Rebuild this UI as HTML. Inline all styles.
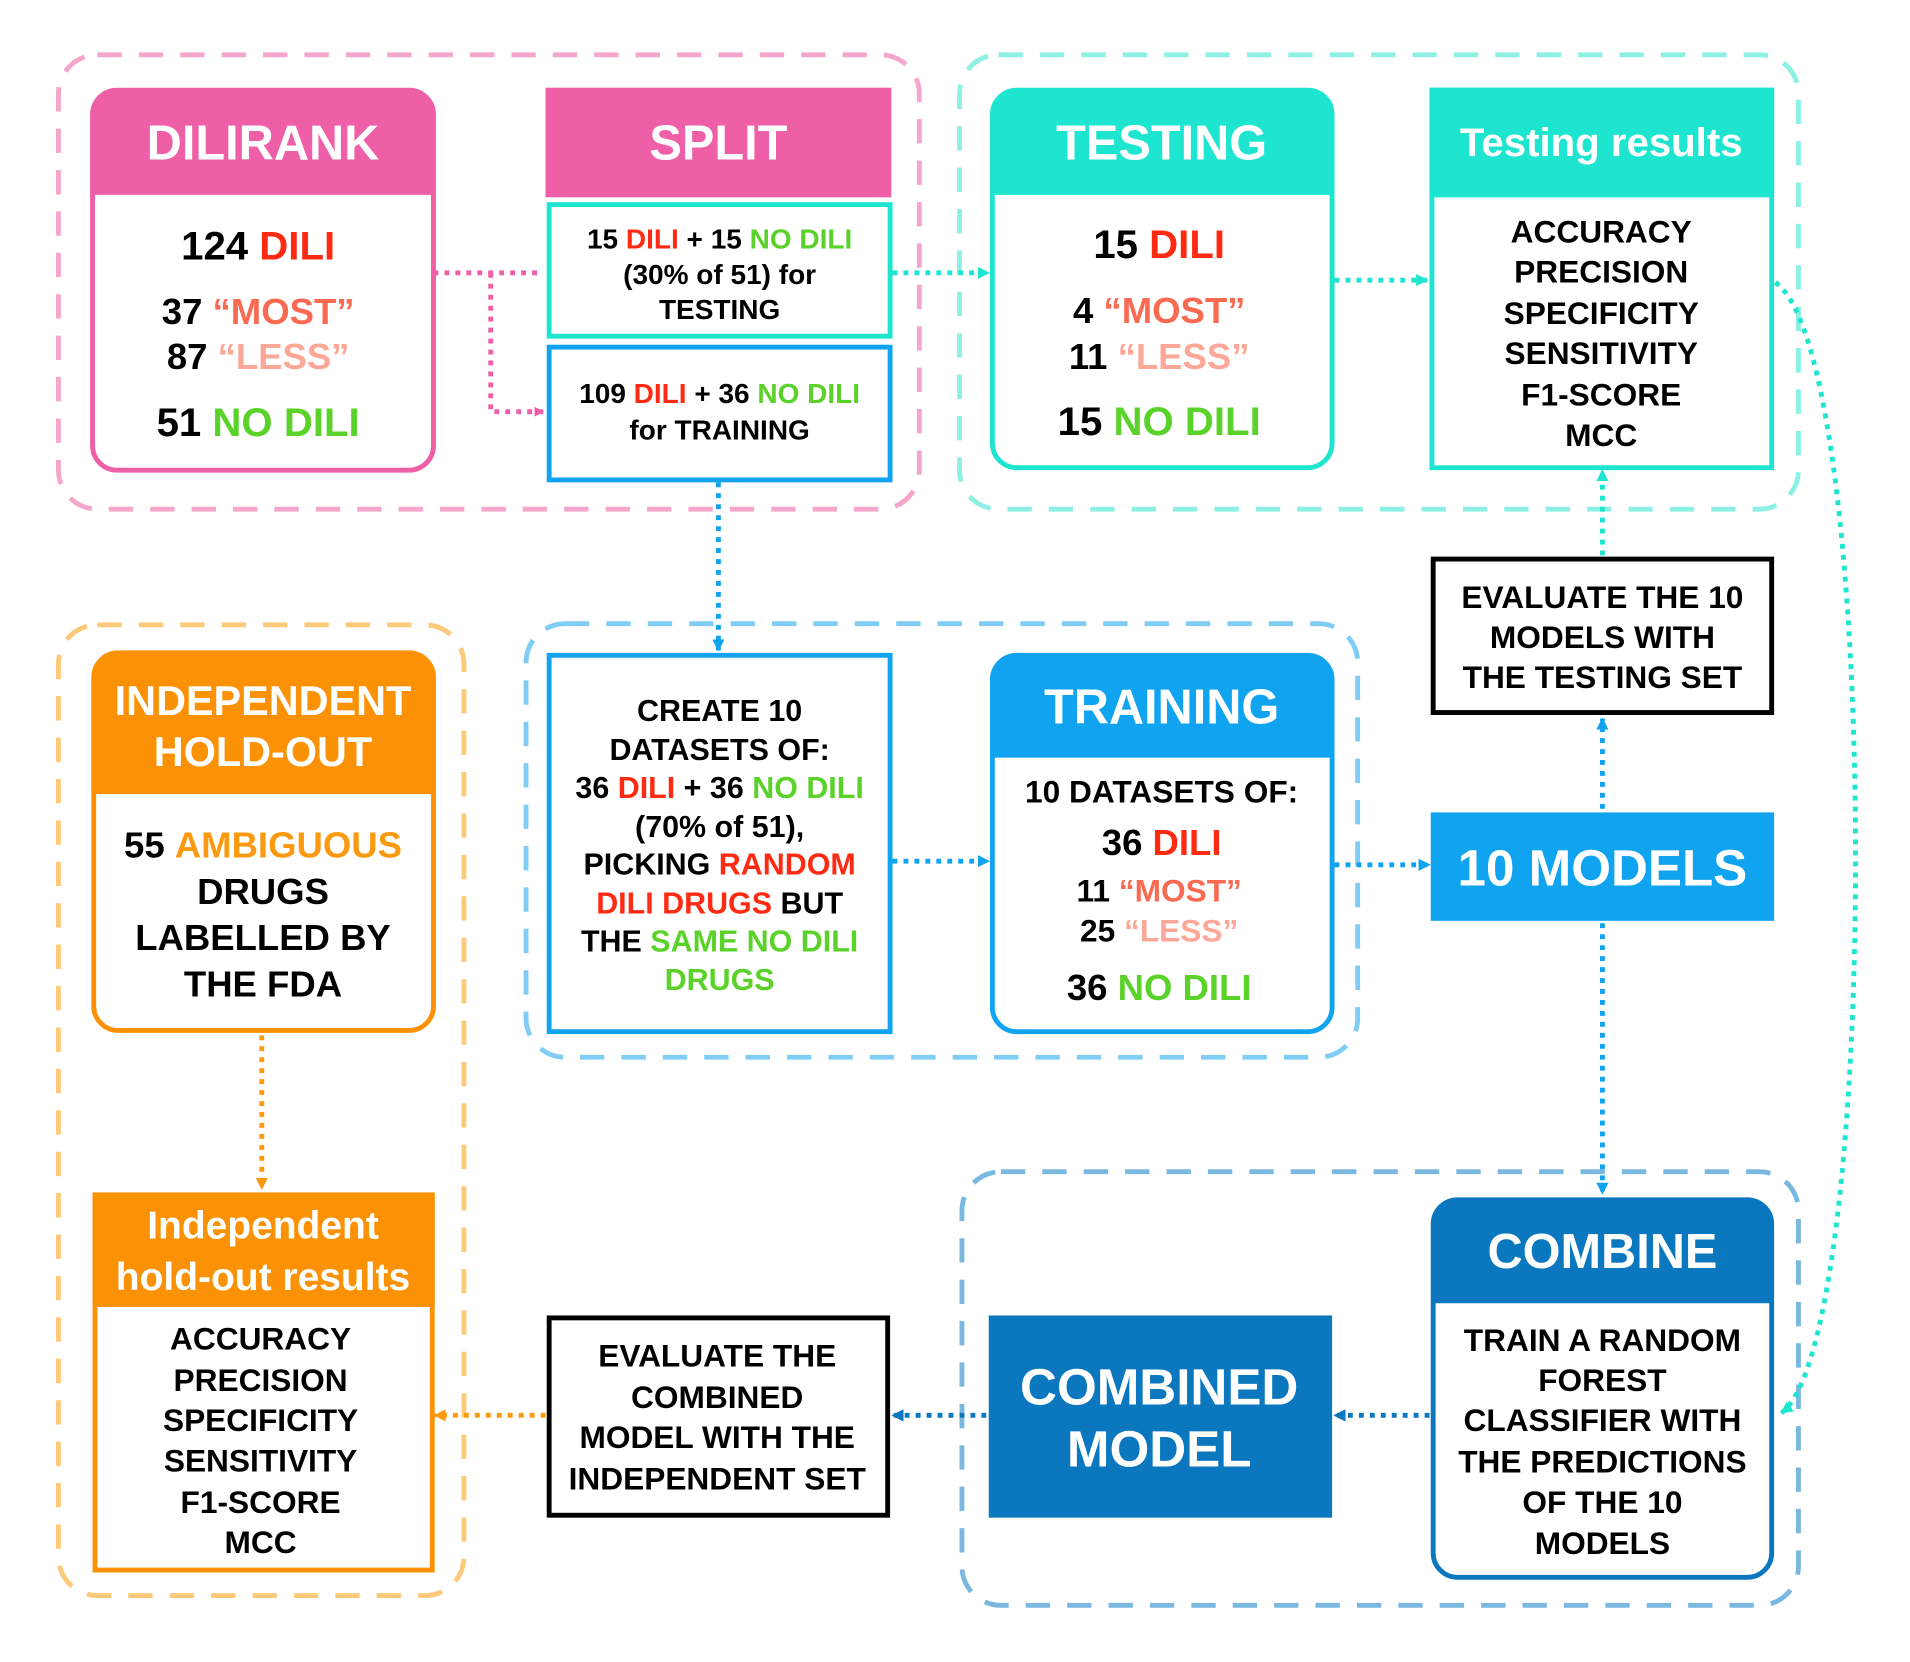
<!DOCTYPE html>
<html><head><meta charset="utf-8"><style>
html,body{margin:0;padding:0;background:#fff;}
svg{display:block;}
text{font-family:"Liberation Sans",Arial,sans-serif;font-weight:bold;text-anchor:middle;}
.r{fill:#ff2a12}.m{fill:#fa6a52}.l{fill:#fca898}.g{fill:#5bd22a}.o{fill:#fb9a10}
.w{fill:#fff}
</style></head><body>
<svg width="1910" height="1662" viewBox="0 0 1568.6 1364.5" preserveAspectRatio="none" xmlns="http://www.w3.org/2000/svg">
<defs>
<marker id="aP" markerWidth="8" markerHeight="8" refX="7" refY="4" orient="auto" markerUnits="userSpaceOnUse"><path d="M0,0L8,4L0,8z" fill="#ee5fa7"/></marker>
<marker id="aT" markerWidth="10" markerHeight="10" refX="9" refY="5" orient="auto" markerUnits="userSpaceOnUse"><path d="M0,0L10,5L0,10z" fill="#1de5cf"/></marker>
<marker id="aB" markerWidth="10" markerHeight="10" refX="9" refY="5" orient="auto" markerUnits="userSpaceOnUse"><path d="M0,0L10,5L0,10z" fill="#10a3f0"/></marker>
<marker id="aD" markerWidth="10" markerHeight="10" refX="9" refY="5" orient="auto" markerUnits="userSpaceOnUse"><path d="M0,0L10,5L0,10z" fill="#0a77bf"/></marker>
<marker id="aO" markerWidth="10" markerHeight="10" refX="9" refY="5" orient="auto" markerUnits="userSpaceOnUse"><path d="M0,0L10,5L0,10z" fill="#fb9a10"/></marker>
</defs>

<g fill="none" stroke-width="4" stroke-dasharray="20,14">
<rect x="48" y="45" width="707" height="373" rx="32" stroke="#f4a6cc"/>
<rect x="788" y="45" width="689" height="373" rx="32" stroke="#8ef0e4"/>
<rect x="432" y="512" width="683" height="356" rx="32" stroke="#7fcdf5"/>
<rect x="790" y="962" width="687" height="356" rx="32" stroke="#7ab8e0"/>
<rect x="48" y="513" width="333" height="797" rx="32" stroke="#fdc97a"/>
</g>

<g fill="none" stroke-width="4" stroke-dasharray="4,5">
<path d="M356,224H446" stroke="#ee5fa7"/>
<path d="M403,224V338H446" stroke="#ee5fa7" marker-end="url(#aP)"/>
<path d="M733,224H812" stroke="#1de5cf" marker-end="url(#aT)"/>
<path d="M1096,230H1172" stroke="#1de5cf" marker-end="url(#aT)"/>
<path d="M1316,456V386" stroke="#1de5cf" marker-end="url(#aT)"/>
<path d="M1458,232C1545,290 1545,1100 1463,1160" stroke="#1de5cf" marker-end="url(#aT)"/>
<path d="M590,396V534" stroke="#10a3f0" marker-end="url(#aB)"/>
<path d="M733,707H812" stroke="#10a3f0" marker-end="url(#aB)"/>
<path d="M1096,710H1174" stroke="#10a3f0" marker-end="url(#aB)"/>
<path d="M1316,664V590" stroke="#10a3f0" marker-end="url(#aB)"/>
<path d="M1316,758V980" stroke="#10a3f0" marker-end="url(#aB)"/>
<path d="M1174,1162H1096" stroke="#0a77bf" marker-end="url(#aD)"/>
<path d="M810,1162H733" stroke="#0a77bf" marker-end="url(#aD)"/>
<path d="M448,1162H357" stroke="#fb9a10" marker-end="url(#aO)"/>
<path d="M215,850V976" stroke="#fb9a10" marker-end="url(#aO)"/>
</g>

<rect x="76" y="74" width="280" height="312" rx="20" fill="#fff" stroke="#ee5fa7" stroke-width="4"/>
<path d="M76,160V94a20,20 0 0 1 20,-20H336a20,20 0 0 1 20,20V160z" fill="#ee5fa7"/>
<text x="216" y="131" font-size="40" class="w">DILIRANK</text>
<text x="212" y="213" font-size="33">124 <tspan class="r">DILI</tspan></text>
<text x="212" y="266" font-size="30">37 <tspan class="m">“MOST”</tspan></text>
<text x="212" y="303" font-size="30">87 <tspan class="l">“LESS”</tspan></text>
<text x="212" y="358" font-size="33">51 <tspan class="g">NO DILI</tspan></text>

<rect x="448" y="72" width="284" height="90" fill="#ee5fa7"/>
<text x="590" y="131" font-size="40" class="w">SPLIT</text>
<rect x="451" y="168" width="280" height="108" fill="#fff" stroke="#1de5cf" stroke-width="4"/>
<text x="591" y="204" font-size="23">15 <tspan class="r">DILI</tspan> + 15 <tspan class="g">NO DILI</tspan></text>
<text x="591" y="233" font-size="23">(30% of 51) for</text>
<text x="591" y="262" font-size="23">TESTING</text>
<rect x="451" y="285" width="280" height="109" fill="#fff" stroke="#10a3f0" stroke-width="4"/>
<text x="591" y="331" font-size="23">109 <tspan class="r">DILI</tspan> + 36 <tspan class="g">NO DILI</tspan></text>
<text x="591" y="361" font-size="23">for TRAINING</text>

<rect x="815" y="74" width="279" height="310" rx="20" fill="#fff" stroke="#1de5cf" stroke-width="4"/>
<path d="M815,160V94a20,20 0 0 1 20,-20H1074a20,20 0 0 1 20,20V160z" fill="#1de5cf"/>
<text x="954" y="131" font-size="40" class="w">TESTING</text>
<text x="952" y="212" font-size="33">15 <tspan class="r">DILI</tspan></text>
<text x="952" y="265" font-size="30">4 <tspan class="m">“MOST”</tspan></text>
<text x="952" y="303" font-size="30">11 <tspan class="l">“LESS”</tspan></text>
<text x="952" y="357" font-size="33">15 <tspan class="g">NO DILI</tspan></text>

<rect x="1176" y="74" width="279" height="310" fill="#fff" stroke="#1de5cf" stroke-width="4"/>
<rect x="1174" y="72" width="283" height="90" fill="#1de5cf"/>
<text x="1315" y="128" font-size="33" class="w">Testing results</text>
<g font-size="26">
<text x="1315" y="199">ACCURACY</text>
<text x="1315" y="232">PRECISION</text>
<text x="1315" y="266">SPECIFICITY</text>
<text x="1315" y="299">SENSITIVITY</text>
<text x="1315" y="333">F1-SCORE</text>
<text x="1315" y="366">MCC</text>
</g>

<rect x="1177" y="459" width="278" height="126" fill="#fff" stroke="#000" stroke-width="4"/>
<g font-size="26">
<text x="1316" y="499">EVALUATE THE 10</text>
<text x="1316" y="532">MODELS WITH</text>
<text x="1316" y="565">THE TESTING SET</text>
</g>

<rect x="451" y="538" width="280" height="309" fill="#fff" stroke="#10a3f0" stroke-width="4"/>
<g font-size="25">
<text x="591" y="592">CREATE 10</text>
<text x="591" y="624">DATASETS OF:</text>
<text x="591" y="655">36 <tspan class="r">DILI</tspan> + 36 <tspan class="g">NO DILI</tspan></text>
<text x="591" y="687">(70% of 51),</text>
<text x="591" y="718">PICKING <tspan class="r">RANDOM</tspan></text>
<text x="591" y="750"><tspan class="r">DILI DRUGS</tspan> BUT</text>
<text x="591" y="781">THE <tspan class="g">SAME NO DILI</tspan></text>
<text x="591" y="813" class="g">DRUGS</text>
</g>

<rect x="815" y="538" width="279" height="309" rx="20" fill="#fff" stroke="#10a3f0" stroke-width="4"/>
<path d="M815,622V558a20,20 0 0 1 20,-20H1074a20,20 0 0 1 20,20V622z" fill="#10a3f0"/>
<text x="954" y="594" font-size="40" class="w">TRAINING</text>
<text x="954" y="659" font-size="26">10 DATASETS OF:</text>
<text x="954" y="702" font-size="30">36 <tspan class="r">DILI</tspan></text>
<text x="952" y="740" font-size="26">11 <tspan class="m">“MOST”</tspan></text>
<text x="952" y="773" font-size="26">25 <tspan class="l">“LESS”</tspan></text>
<text x="952" y="821" font-size="30">36 <tspan class="g">NO DILI</tspan></text>

<rect x="1175" y="667" width="282" height="89" fill="#10a3f0"/>
<text x="1316" y="727" font-size="42" class="w">10 MODELS</text>

<rect x="1177" y="985" width="278" height="310" rx="20" fill="#fff" stroke="#0a77bf" stroke-width="4"/>
<path d="M1177,1070V1005a20,20 0 0 1 20,-20H1435a20,20 0 0 1 20,20V1070z" fill="#0a77bf"/>
<text x="1316" y="1041" font-size="40" class="w">COMBINE</text>
<g font-size="26">
<text x="1316" y="1109">TRAIN A RANDOM</text>
<text x="1316" y="1142">FOREST</text>
<text x="1316" y="1175">CLASSIFIER WITH</text>
<text x="1316" y="1209">THE PREDICTIONS</text>
<text x="1316" y="1242">OF THE 10</text>
<text x="1316" y="1276">MODELS</text>
</g>

<rect x="812" y="1080" width="282" height="166" fill="#0a77bf"/>
<text x="952" y="1153" font-size="42" class="w">COMBINED</text>
<text x="952" y="1204" font-size="42" class="w">MODEL</text>

<rect x="451" y="1082" width="278" height="162" fill="#fff" stroke="#000" stroke-width="4"/>
<g font-size="26">
<text x="589" y="1122">EVALUATE THE</text>
<text x="589" y="1156">COMBINED</text>
<text x="589" y="1189">MODEL WITH THE</text>
<text x="589" y="1223">INDEPENDENT SET</text>
</g>

<rect x="77" y="536" width="279" height="310" rx="20" fill="#fff" stroke="#fb9104" stroke-width="4"/>
<path d="M77,652V556a20,20 0 0 1 20,-20H336a20,20 0 0 1 20,20V652z" fill="#fb9104"/>
<text x="216" y="587" font-size="34" class="w">INDEPENDENT</text>
<text x="216" y="629" font-size="34" class="w">HOLD-OUT</text>
<g font-size="30">
<text x="216" y="704">55 <tspan class="o">AMBIGUOUS</tspan></text>
<text x="216" y="742">DRUGS</text>
<text x="216" y="780">LABELLED BY</text>
<text x="216" y="818">THE FDA</text>
</g>

<rect x="78" y="981" width="277" height="308" fill="#fff" stroke="#fb9104" stroke-width="4"/>
<rect x="76" y="979" width="281" height="94" fill="#fb9104"/>
<text x="216" y="1017" font-size="32" class="w">Independent</text>
<text x="216" y="1059" font-size="32" class="w">hold-out results</text>
<g font-size="26">
<text x="214" y="1108">ACCURACY</text>
<text x="214" y="1142">PRECISION</text>
<text x="214" y="1175">SPECIFICITY</text>
<text x="214" y="1208">SENSITIVITY</text>
<text x="214" y="1242">F1-SCORE</text>
<text x="214" y="1275">MCC</text>
</g>
</svg>
</body></html>
